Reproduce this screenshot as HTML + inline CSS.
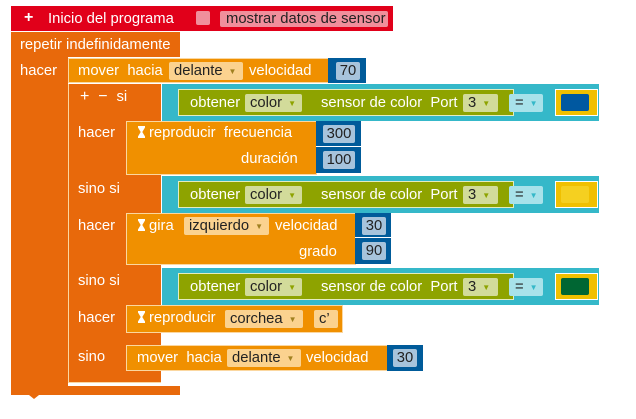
<!DOCTYPE html>
<html><head><meta charset="utf-8"><style>
body{margin:0;width:636px;height:419px;background:#fff;position:relative;overflow:hidden;font-family:"Liberation Sans",sans-serif;font-size:14.8px;color:#fff}
div{position:absolute;box-sizing:border-box}
.t{white-space:nowrap;line-height:16px}
.dk{background:#e8690b}
.lo{background:#f09000;border:1px solid #fbd7a0}
.teal{background:#35b8c9}
.grn{background:#8ea300;border:1px solid #e4ecc0}
.fg{background:#d2db9a;color:#222;border-radius:2px;line-height:18px;padding-left:5px;height:18px}
.fo{background:#fbd28f;color:#222;border-radius:2px;line-height:18px;padding-left:5px;height:18px}
.val{background:#005b9a}
.vi{background:#a7c4dc;color:#222;text-align:center;line-height:18px;height:18px;border-radius:2px}
.ar{font-size:8px;color:#a08020;margin-left:6px;vertical-align:1px}
.eq{background:#a8e2ea;color:#222;border-radius:2px;line-height:18px;height:18px;padding-left:6px}
.yel{background:#f0c000;border:1px solid #fff}
svg.hg{vertical-align:-1px;margin-right:4px}
</style></head><body>
<!-- header -->
<div style="left:11px;top:6px;width:382px;height:25px;background:#e1001a"></div>
<div class="t" style="left:24px;top:10px;font-size:16px;font-weight:bold">+</div>
<div class="t" style="left:48px;top:11px">Inicio del programa</div>
<div style="left:196px;top:11px;width:14px;height:14px;background:#f08f9c;border-radius:2px"></div>
<div class="t" style="left:220px;top:11px;width:168px;height:16px;background:#f08f9c;color:#222;padding-left:6px;border-radius:2px">mostrar datos de sensor</div>
<!-- repetir -->
<div class="dk" style="left:11px;top:32px;width:169px;height:25px"></div>
<div class="dk" style="left:11px;top:32px;width:57px;height:363px"></div>
<div class="dk" style="left:11px;top:386px;width:169px;height:9px"></div>
<div style="left:29px;top:395px;width:0;height:0;border-left:5px solid transparent;border-right:5px solid transparent;border-top:4px solid #e8690b"></div>
<div class="t" style="left:20px;top:37px">repetir indefinidamente</div>
<div class="t" style="left:20px;top:63px">hacer</div>
<!-- mover -->
<div class="lo" style="left:68px;top:58px;width:261px;height:25px"></div>
<div class="t" style="left:78px;top:63px">mover&nbsp; hacia</div>
<div class="fo" style="left:169px;top:62px;width:74px">delante<span class="ar">▼</span></div>
<div class="t" style="left:249px;top:63px">velocidad</div>
<div class="val" style="left:328px;top:58px;width:38px;height:25px"></div>
<div class="vi" style="left:336px;top:62px;width:24px">70</div>
<!-- if block -->
<div class="dk" style="left:68px;top:84px;width:93px;height:299px;border-left:1px solid #fbd7a0;border-bottom:1px solid #fbd7a0"></div>
<div class="t" style="left:80px;top:89px;font-size:16px">+ &nbsp;−&nbsp; <span style="font-size:14.8px">si</span></div>
<div class="t" style="left:78px;top:125px">hacer</div>
<div class="t" style="left:78px;top:181px">sino si</div>
<div class="t" style="left:78px;top:218px">hacer</div>
<div class="t" style="left:78px;top:273px">sino si</div>
<div class="t" style="left:78px;top:310px">hacer</div>
<div class="t" style="left:78px;top:349px">sino</div>

<!-- condition rows -->
<div class="teal" style="left:162px;top:84px;width:437px;height:37px"></div>
<div class="grn" style="left:178px;top:89px;width:336px;height:27px"></div>
<div class="t" style="left:190px;top:95px">obtener</div>
<div class="fg" style="left:245px;top:94px;width:57px">color<span class="ar" style="color:#8ea300">▼</span></div>
<div class="t" style="left:321px;top:95px">sensor de color&nbsp; Port</div>
<div class="fg" style="left:463px;top:94px;width:35px">3<span class="ar" style="color:#8ea300">▼</span></div>
<div class="eq" style="left:509px;top:94px;width:34px">=<span class="ar" style="color:#35b8c9">▼</span></div>
<div class="yel" style="left:555px;top:89px;width:43px;height:27px"></div>
<div style="left:561px;top:94px;width:28px;height:17px;background:#0058a0;border-radius:2px"></div>

<div class="teal" style="left:162px;top:176px;width:437px;height:37px"></div>
<div class="grn" style="left:178px;top:181px;width:336px;height:27px"></div>
<div class="t" style="left:190px;top:187px">obtener</div>
<div class="fg" style="left:245px;top:186px;width:57px">color<span class="ar" style="color:#8ea300">▼</span></div>
<div class="t" style="left:321px;top:187px">sensor de color&nbsp; Port</div>
<div class="fg" style="left:463px;top:186px;width:35px">3<span class="ar" style="color:#8ea300">▼</span></div>
<div class="eq" style="left:509px;top:186px;width:34px">=<span class="ar" style="color:#35b8c9">▼</span></div>
<div class="yel" style="left:555px;top:181px;width:43px;height:27px"></div>
<div style="left:561px;top:186px;width:28px;height:17px;background:#f5d020;border-radius:2px"></div>

<div class="teal" style="left:162px;top:268px;width:437px;height:37px"></div>
<div class="grn" style="left:178px;top:273px;width:336px;height:27px"></div>
<div class="t" style="left:190px;top:279px">obtener</div>
<div class="fg" style="left:245px;top:278px;width:57px">color<span class="ar" style="color:#8ea300">▼</span></div>
<div class="t" style="left:321px;top:279px">sensor de color&nbsp; Port</div>
<div class="fg" style="left:463px;top:278px;width:35px">3<span class="ar" style="color:#8ea300">▼</span></div>
<div class="eq" style="left:509px;top:278px;width:34px">=<span class="ar" style="color:#35b8c9">▼</span></div>
<div class="yel" style="left:555px;top:273px;width:43px;height:27px"></div>
<div style="left:561px;top:278px;width:28px;height:17px;background:#006633;border-radius:2px"></div>

<!-- reproducir frecuencia -->
<div class="lo" style="left:126px;top:121px;width:191px;height:54px"></div>
<div class="t" style="left:138px;top:125px"><svg class="hg" width="7" height="12" viewBox="0 0 7 12"><path d="M0 0H7V1.5L4.3 6L7 10.5V12H0V10.5L2.7 6L0 1.5Z" fill="#fff"/></svg>reproducir&nbsp; frecuencia</div>
<div class="t" style="left:241px;top:151px">duración</div>
<div class="val" style="left:316px;top:121px;width:45px;height:26px;border-bottom:1px solid #fff"></div>
<div class="vi" style="left:323px;top:125px;width:32px">300</div>
<div class="val" style="left:316px;top:147px;width:45px;height:26px"></div>
<div class="vi" style="left:323px;top:151px;width:32px">100</div>

<!-- gira -->
<div class="lo" style="left:126px;top:213px;width:230px;height:52px"></div>
<div class="t" style="left:138px;top:218px"><svg class="hg" width="7" height="12" viewBox="0 0 7 12"><path d="M0 0H7V1.5L4.3 6L7 10.5V12H0V10.5L2.7 6L0 1.5Z" fill="#fff"/></svg>gira</div>
<div class="fo" style="left:184px;top:217px;width:85px">izquierdo<span class="ar">▼</span></div>
<div class="t" style="left:275px;top:218px">velocidad</div>
<div class="t" style="left:299px;top:244px">grado</div>
<div class="val" style="left:355px;top:213px;width:36px;height:25px;border-bottom:1px solid #fff"></div>
<div class="vi" style="left:362px;top:217px;width:24px">30</div>
<div class="val" style="left:355px;top:238px;width:36px;height:26px"></div>
<div class="vi" style="left:362px;top:242px;width:24px">90</div>

<!-- corchea -->
<div class="lo" style="left:126px;top:305px;width:217px;height:28px"></div>
<div class="t" style="left:138px;top:310px"><svg class="hg" width="7" height="12" viewBox="0 0 7 12"><path d="M0 0H7V1.5L4.3 6L7 10.5V12H0V10.5L2.7 6L0 1.5Z" fill="#fff"/></svg>reproducir</div>
<div class="fo" style="left:225px;top:310px;width:78px">corchea<span class="ar">▼</span></div>
<div class="fo" style="left:314px;top:310px;width:24px">c’</div>

<!-- mover 2 -->
<div class="lo" style="left:126px;top:345px;width:262px;height:26px"></div>
<div class="t" style="left:137px;top:350px">mover&nbsp; hacia</div>
<div class="fo" style="left:227px;top:349px;width:74px">delante<span class="ar">▼</span></div>
<div class="t" style="left:306px;top:350px">velocidad</div>
<div class="val" style="left:387px;top:345px;width:36px;height:26px"></div>
<div class="vi" style="left:393px;top:349px;width:24px">30</div>
</body></html>
